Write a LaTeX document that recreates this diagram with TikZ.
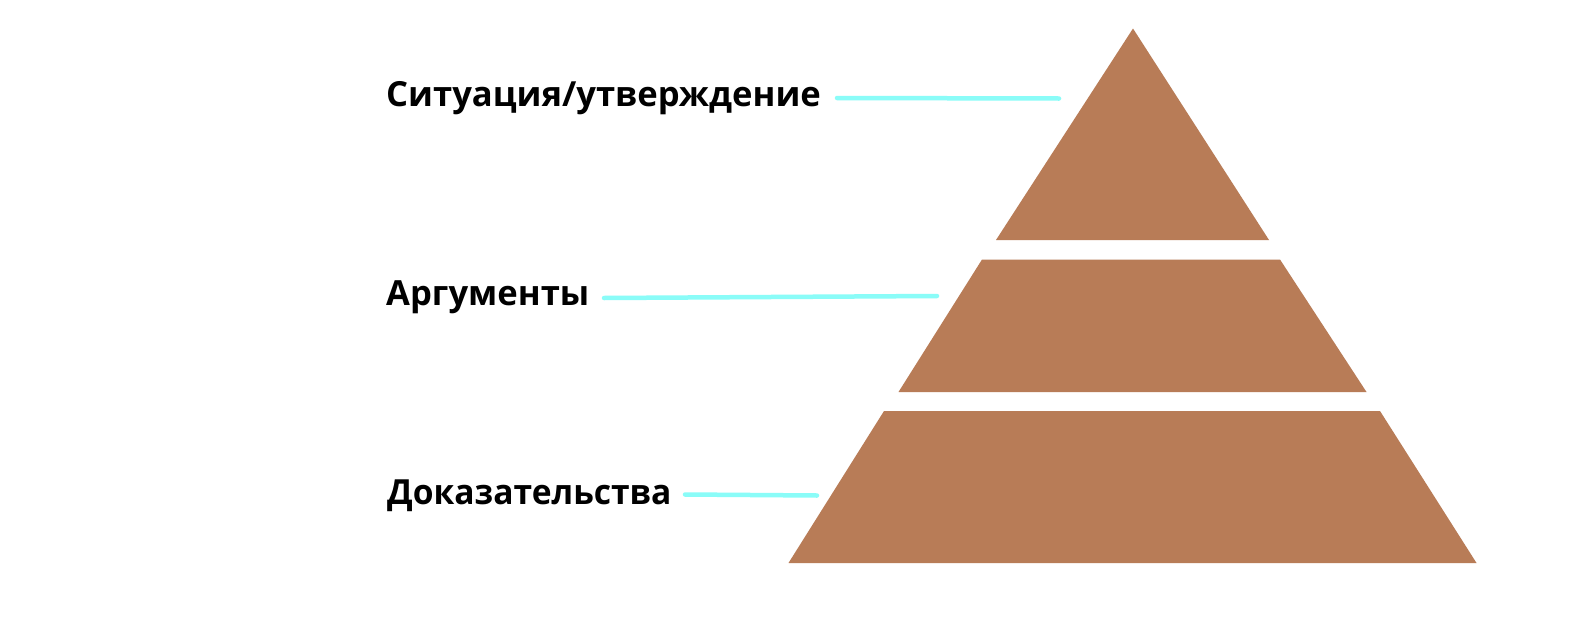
\documentclass[tikz,border=0pt]{standalone}
\usepackage{fontspec}
\setmainfont{Open Sans}
\definecolor{brick}{RGB}{184,124,87}
\definecolor{leader}{RGB}{138,252,248}
\begin{document}
\begin{tikzpicture}[x=1pt,y=-1pt,
  tier/.style={fill=brick,draw=none},
  lbl/.style={anchor=base west,inner sep=0pt,font=\fontsize{34.6}{40}\selectfont\bfseries},
  leaderline/.style={draw=leader,line width=4.5pt,line cap=round}]
\useasboundingbox (0,0) rectangle (1596,624);
\fill[white] (0,0) rectangle (1596,624);
% pyramid tiers
\path[tier] (1133,28.5) -- (1269,240) -- (996,240) -- cycle;
\path[tier] (982,259.5) -- (1280,259.5) -- (1366.5,392) -- (898.5,392) -- cycle;
\path[tier] (884,411) -- (1380,411) -- (1476.5,563) -- (788.5,563) -- cycle;
% labels
\node[lbl] (t1) at (386,106) {Ситуация/утверждение};
\node[lbl] (t2) at (386,305.5) {Аргументы};
\node[lbl] (t3) at (387,504.5) {\scalebox{0.97}[1]{Доказательства}};
% leader ends
\coordinate (a1) at (837,98);
\coordinate (b1) at (1059,98.5);
\coordinate (a2) at (604,298);
\coordinate (b2) at (937,296);
\coordinate (a3) at (685,494.5);
\coordinate (b3) at (817,495.5);
\draw[leaderline] (a1) -- (b1);
\draw[leaderline] (a2) -- (b2);
\draw[leaderline] (a3) -- (b3);
\end{tikzpicture}
\end{document}
